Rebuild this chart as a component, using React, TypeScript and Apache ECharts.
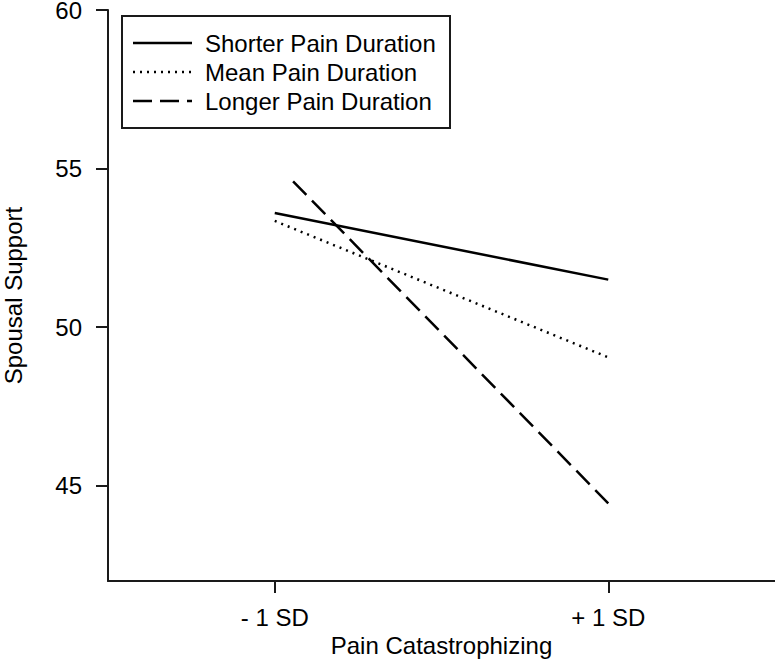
import React, { useEffect, useRef } from "react";
import * as echarts from "echarts";

const seriesNames = ["Shorter Pain Duration", "Mean Pain Duration", "Longer Pain Duration"];
const shorterPoints: [number, number][] = [[-1, 53.6], [1, 51.5]];
const meanPoints: [number, number][] = [[-1, 53.35], [1, 49.05]];
const longerPoints: [number, number][] = [[-0.89, 54.6], [1, 44.45]];
const xTickValues = [-1, 1];
const xTickLabels = ["- 1 SD", "+ 1 SD"];
const yTickValues = [45, 50, 55, 60];
const xAxisTitle = "Pain Catastrophizing";
const yAxisTitle = "Spousal Support";

const FONT = "'Liberation Sans', Arial, sans-serif";
const INK = "#1a1a1a";
const dashStyles: any[] = ["solid", [2, 5], [19, 8]];
const widths = [2.5, 2.5, 2.5];

export default function App() {
  const ref = useRef<HTMLDivElement>(null);
  useEffect(() => {
    document.body.style.margin = "0";
    if (!ref.current) return;
    const chart = echarts.init(ref.current, null, { renderer: "svg" });
    const allData = [shorterPoints, meanPoints, longerPoints];
    const legendY = [43, 72, 101];
    const graphic: any[] = [
      {
        type: "rect",
        shape: { x: 122, y: 16, width: 328, height: 112 },
        style: { fill: "#fff", stroke: INK, lineWidth: 2 },
        z: 100,
      },
    ];
    seriesNames.forEach((n, i) => {
      graphic.push({
        type: "line",
        shape: { x1: 133, y1: legendY[i], x2: 192, y2: legendY[i] },
        style: { stroke: "#000", lineWidth: widths[i], lineDash: dashStyles[i] === "solid" ? null : dashStyles[i] },
        z: 101,
      });
      graphic.push({
        type: "text",
        x: 205,
        y: legendY[i],
        style: { text: n, fill: "#000", font: `24px ${FONT}`, verticalAlign: "middle", align: "left" },
        z: 101,
      });
    });
    chart.setOption({
      animation: false,
      backgroundColor: "#fff",
      grid: { left: 108, right: 0, top: 10, bottom: 89, outerBoundsMode: "none", containLabel: false },
      xAxis: {
        type: "value",
        min: -2,
        max: 2,
        name: xAxisTitle,
        nameLocation: "middle",
        nameGap: 43,
        nameTextStyle: { fontFamily: FONT, fontSize: 24, color: "#000" },
        axisLine: { show: true, onZero: false, lineStyle: { color: INK, width: 2 } },
        axisTick: { show: true, length: 12, lineStyle: { color: INK, width: 2 }, customValues: xTickValues },
        axisLabel: {
          customValues: xTickValues,
          margin: 24,
          fontFamily: FONT,
          fontSize: 24,
          color: "#000",
          formatter: (v: number) => xTickLabels[xTickValues.indexOf(v)] ?? "",
        },
        splitLine: { show: false },
      },
      yAxis: {
        type: "value",
        min: 42,
        max: 60,
        name: yAxisTitle,
        nameLocation: "middle",
        nameGap: 83,
        nameTextStyle: { fontFamily: FONT, fontSize: 24, color: "#000" },
        axisLine: { show: true, onZero: false, lineStyle: { color: INK, width: 2 } },
        axisTick: { show: true, length: 12, lineStyle: { color: INK, width: 2 }, customValues: yTickValues },
        axisLabel: {
          customValues: yTickValues,
          margin: 26,
          fontFamily: FONT,
          fontSize: 24,
          lineHeight: 18,
          color: "#000",
        },
        splitLine: { show: false },
      },
      series: seriesNames.map((n, i) => ({
        type: "line",
        name: n,
        data: allData[i],
        showSymbol: false,
        symbol: "none",
        lineStyle: { color: "#000", width: widths[i], type: dashStyles[i], cap: "butt" },
      })),
      graphic,
    });
    return () => chart.dispose();
  }, []);
  return <div ref={ref} style={{ width: 775, height: 670 }} />;
}
